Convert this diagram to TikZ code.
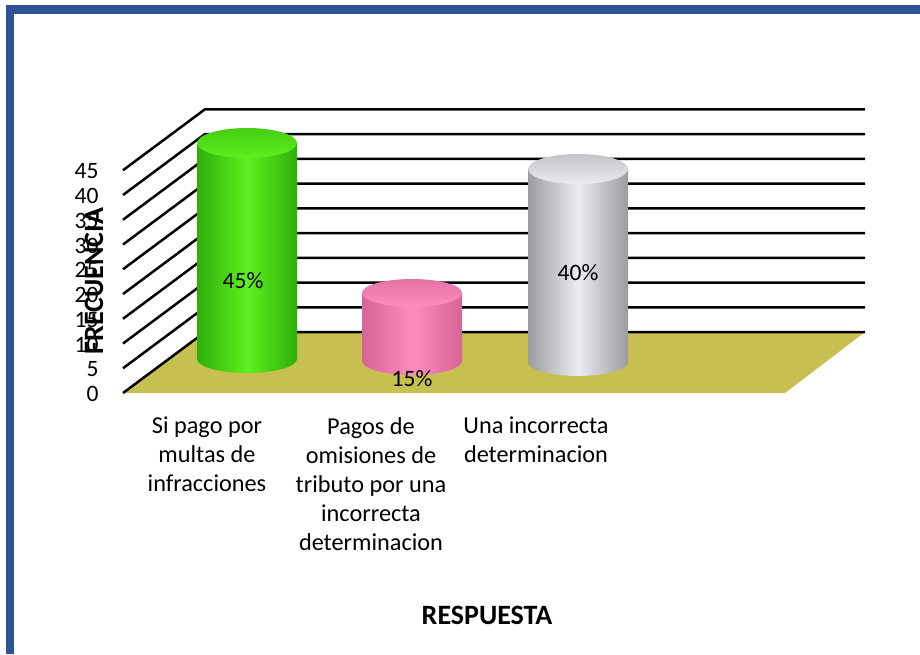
\documentclass[tikz,border=0pt]{standalone}
\usepackage{fontspec}
\setmainfont{Carlito}

\definecolor{marco}{RGB}{47,84,150}
\definecolor{piso}{RGB}{198,192,80}
\definecolor{verde}{RGB}{95,240,30}
\definecolor{verdeosc}{RGB}{45,175,10}
\definecolor{verdetapa}{RGB}{70,205,20}
\definecolor{rosa}{RGB}{255,140,190}
\definecolor{rosaosc}{RGB}{215,100,150}
\definecolor{rosatapa}{RGB}{230,115,165}
\definecolor{gris}{RGB}{235,235,240}
\definecolor{grisosc}{RGB}{155,155,160}
\definecolor{gristapa}{RGB}{195,195,200}

\begin{document}
\begin{tikzpicture}[x=1pt, y=-1pt,
    rejilla/.style={black, line width=2.5pt},
    etiqueta/.style={font=\fontsize{23.5}{28}\selectfont},
    categoria/.style={font=\fontsize{24.3}{29}\selectfont, align=center, anchor=north, inner sep=0pt},
    titulo/.style={font=\fontsize{28}{32}\selectfont\bfseries}]

    \useasboundingbox (0,0) rectangle (920,654);

    % Frame
    \draw[marco, line width=8.5pt] (10,654) -- (10,9.5) -- (920,9.5);

    % Floor
    \fill[piso] (123,393) -- (205,332) -- (865,332) -- (785,393) -- cycle;

    % Grid and axis values
    \foreach \k in {0,...,9} {
        \draw[rejilla] (123,393-24.75*\k) -- (205,332-24.75*\k) -- (865,332-24.75*\k);
        \pgfmathtruncatemacro\valor{5*\k}
        \node[etiqueta, anchor=east] (v\k) at (102,394-24.75*\k) {\valor};
    }

    % Cylinders
    \shade[left color=verdeosc, right color=verdeosc, middle color=verde] (247,359) ellipse [x radius=50, y radius=14];
    \shade[left color=verdeosc, right color=verdeosc, middle color=verde] (197,143) rectangle (297,359);
    \shade[top color=verdetapa, bottom color=verde] (247,143) ellipse [x radius=50, y radius=15];

    \shade[left color=rosaosc, right color=rosaosc, middle color=rosa] (412,361) ellipse [x radius=50, y radius=14];
    \shade[left color=rosaosc, right color=rosaosc, middle color=rosa] (362,293) rectangle (462,361);
    \shade[top color=rosatapa, bottom color=rosa] (412,293) ellipse [x radius=50, y radius=14];

    \shade[left color=grisosc, right color=grisosc, middle color=gris] (578,362) ellipse [x radius=50, y radius=14];
    \shade[left color=grisosc, right color=grisosc, middle color=gris] (528,169) rectangle (628,362);
    \shade[top color=gristapa, bottom color=gris] (578,169) ellipse [x radius=50, y radius=15];

    % Labels
    \node[etiqueta] (p1) at (243,281) {45\%};
    \node[etiqueta] (p2) at (412,379) {15\%};
    \node[etiqueta] (p3) at (578,273) {40\%};

    \node[categoria] (c1) at (207,417) {Si pago por\\multas de\\infracciones};
    \node[categoria] (c2) at (371,417) {Pagos de\\omisiones de\\tributo por una\\incorrecta\\determinacion};
    \node[categoria] (c3) at (536,417) {Una incorrecta\\determinacion};

    \node[titulo] (ejex) at (487,615) {RESPUESTA};
    \node[titulo, rotate=90] (ejey) at (94,281) {FRECUENCIA};
\end{tikzpicture}
\end{document}
